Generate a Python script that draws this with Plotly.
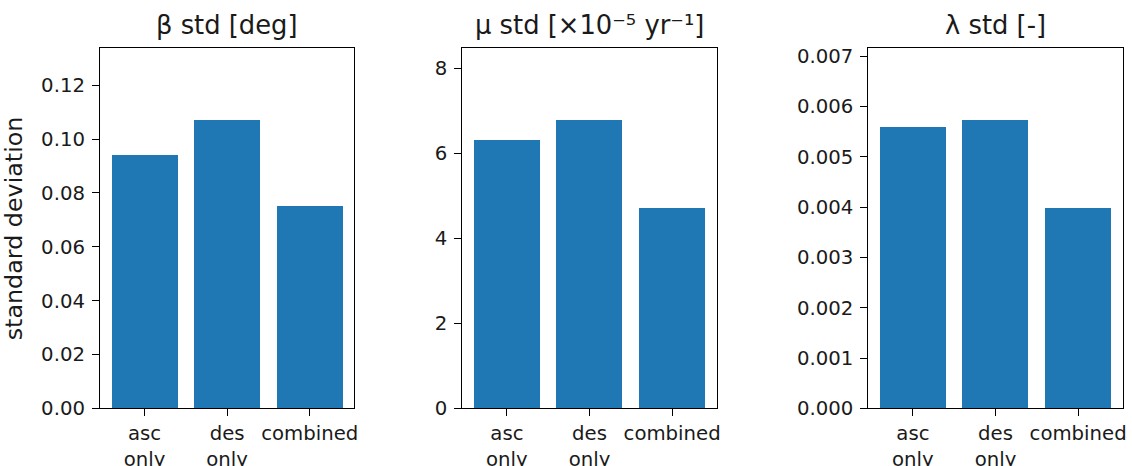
import plotly.graph_objects as go

categories = ["asc<br>only", "des<br>only", "combined"]
beta_std = [0.0941, 0.1070, 0.0751]
mu_std = [6.30, 6.78, 4.71]
lam_std = [0.005594, 0.005726, 0.003974]
titles = ["β std [deg]", "μ std [×10⁻⁵ yr⁻¹]", "λ std [-]"]
ylabel = "standard deviation"

W, H = 1132, 466
xdomains = [(100 / W, 354.3 / W), (462.3 / W, 716.7 / W), (868.3 / W, 1122.7 / W)]
ydom = (1 - 408.3 / H, 1 - 48.3 / H)

series = [beta_std, mu_std, lam_std]
dticks = [0.02, 2, 0.001]
formats = [".2f", "d", ".3f"]

FONT = "DejaVu Sans"
TXT = "#1a1a1a"

fig = go.Figure()
xpos = list(range(len(categories)))
for i, vals in enumerate(series):
    n = "" if i == 0 else str(i + 1)
    fig.add_trace(go.Bar(
        x=xpos, y=vals, width=0.8,
        marker=dict(color="#1f77b4", line=dict(width=0)),
        xaxis="x" + n, yaxis="y" + n, showlegend=False,
    ))
    axis_common = dict(
        showline=True, linecolor="black", linewidth=1.2, mirror=True,
        ticks="outside", ticklen=7, tickwidth=1.2, tickcolor="black",
        showgrid=False, zeroline=False, automargin=False,
        tickfont=dict(family=FONT, size=19.7, color=TXT),
    )
    fig.update_layout(**{
        "xaxis" + n: dict(
            domain=xdomains[i], anchor="y" + n, range=[-0.54, 2.54],
            tickvals=xpos, ticktext=categories, ticklabelstandoff=0,
            **axis_common),
        "yaxis" + n: dict(
            domain=ydom, anchor="x" + n, range=[0, 1.25 * max(vals)],
            dtick=dticks[i], tick0=0, tickformat=formats[i], ticklabelstandoff=3,
            **axis_common),
    })
    fig.add_annotation(
        text=titles[i], xref="paper", yref="paper",
        x=(xdomains[i][0] + xdomains[i][1]) / 2, y=ydom[1],
        xanchor="center", yanchor="bottom", yshift=6, showarrow=False,
        font=dict(family=FONT, size=25.8, color=TXT),
    )

fig.add_annotation(
    text=ylabel, xref="paper", yref="paper", x=14 / W, y=(ydom[0] + ydom[1]) / 2,
    xanchor="center", yanchor="middle", textangle=-90, showarrow=False,
    font=dict(family=FONT, size=23.8, color=TXT),
)

fig.update_layout(
    width=W, height=H, margin=dict(l=0, r=0, t=0, b=0),
    paper_bgcolor="white", plot_bgcolor="white", bargap=0,
    font=dict(family=FONT, color=TXT),
)
fig.write_html(
    "out.html",
    config={"displayModeBar": False},
    post_script="document.body.style.margin='0';document.body.style.overflow='hidden';",
)
